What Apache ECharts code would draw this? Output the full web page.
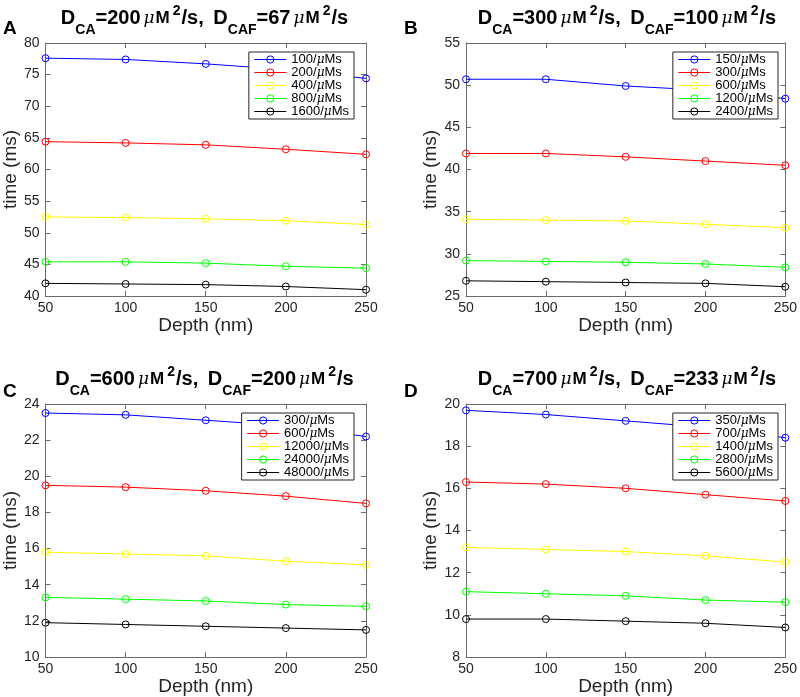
<!DOCTYPE html>
<html><head><meta charset="utf-8">
<script src="https://cdn.jsdelivr.net/npm/echarts@6/dist/echarts.min.js"></script>
<style>html,body{margin:0;padding:0;background:#fff}#c{width:800px;height:697px}</style>
</head><body><div id="c"></div>
<script>
// ---- data ----
const depth = [50, 100, 150, 200, 250];
const lineColors = ['#0000ff', '#ff0000', '#ffff00', '#00ff00', '#000000'];

const ratesA = ['100', '200', '400', '800', '1600'];
const A_blue   = [77.6, 77.4, 76.7, 75.8, 74.4];
const A_red    = [64.4, 64.2, 63.9, 63.2, 62.4];
const A_yellow = [52.5, 52.4, 52.2, 51.9, 51.3];
const A_green  = [45.4, 45.4, 45.2, 44.7, 44.4];
const A_black  = [42.0, 41.9, 41.8, 41.5, 41.0];

const ratesB = ['150', '300', '600', '1200', '2400'];
const B_blue   = [50.7, 50.7, 49.9, 49.4, 48.4];
const B_red    = [41.9, 41.9, 41.5, 41.0, 40.5];
const B_yellow = [34.1, 34.0, 33.9, 33.5, 33.1];
const B_green  = [29.2, 29.1, 29.0, 28.8, 28.4];
const B_black  = [26.8, 26.7, 26.6, 26.5, 26.1];

const ratesC = ['300', '600', '12000', '24000', '48000'];
const C_blue   = [23.5, 23.4, 23.1, 22.8, 22.2];
const C_red    = [19.5, 19.4, 19.2, 18.9, 18.5];
const C_yellow = [15.8, 15.7, 15.6, 15.3, 15.1];
const C_green  = [13.3, 13.2, 13.1, 12.9, 12.8];
const C_black  = [11.9, 11.8, 11.7, 11.6, 11.5];

const ratesD = ['350', '700', '1400', '2800', '5600'];
const D_blue   = [19.7, 19.5, 19.2, 18.9, 18.4];
const D_red    = [16.3, 16.2, 16.0, 15.7, 15.4];
const D_yellow = [13.2, 13.1, 13.0, 12.8, 12.5];
const D_green  = [11.1, 11.0, 10.9, 10.7, 10.6];
const D_black  = [9.8, 9.8, 9.7, 9.6, 9.4];

const yRanges = [[40, 80, 5], [25, 55, 5], [10, 24, 2], [8, 20, 2]];
const DCA = ['200', '300', '600', '700'];
const DCAF = ['67', '100', '200', '233'];
const letters = ['A', 'B', 'C', 'D'];

// ---- layout ----
const FONT = 'Liberation Sans, Arial, Helvetica, sans-serif';
const AX = '#6b6b6b';
const TXT = '#262626';
const grids = [
  {left: 43, top: 43, width: 323, height: 253},
  {left: 466, top: 43, width: 322, height: 253},
  {left: 43, top: 404, width: 323, height: 253},
  {left: 466, top: 404, width: 322, height: 253}
];
const panels = [
  {rates: ratesA, vals: [A_blue, A_red, A_yellow, A_green, A_black]},
  {rates: ratesB, vals: [B_blue, B_red, B_yellow, B_green, B_black]},
  {rates: ratesC, vals: [C_blue, C_red, C_yellow, C_green, C_black]},
  {rates: ratesD, vals: [D_blue, D_red, D_yellow, D_green, D_black]}
];

const xAxes = [], yAxes = [], series = [], legends = [], titles = [];
panels.forEach((p, i) => {
  const g = grids[i];
  const [ymin, ymax, yint] = yRanges[i];
  const common = {gridIndex: i, type: 'value', splitLine: {show: false},
    axisLine: {show: true, lineStyle: {color: AX, width: 1}},
    axisTick: {show: true, inside: true, length: 5, lineStyle: {color: AX}}};
  xAxes.push(Object.assign({}, common, {position: 'bottom', min: 50, max: 250, interval: 50,
    axisLabel: {color: TXT, fontSize: 14, fontFamily: FONT, margin: 5, showMinLabel: true, showMaxLabel: true},
    name: 'Depth (nm)', nameLocation: 'middle', nameGap: 18,
    nameTextStyle: {color: TXT, fontSize: 19, fontFamily: FONT}}));
  yAxes.push(Object.assign({}, common, {position: 'left', min: ymin, max: ymax, interval: yint,
    axisLabel: {color: TXT, fontSize: 14, fontFamily: FONT, margin: 6, showMinLabel: true, showMaxLabel: true},
    name: 'time (ms)', nameLocation: 'middle', nameGap: 24,
    nameTextStyle: {color: TXT, fontSize: 19, fontFamily: FONT}}));
  p.vals.forEach((v, k) => {
    series.push({
      type: 'line', name: letters[i] + '|' + p.rates[k],
      xAxisIndex: i, yAxisIndex: i,
      data: depth.map((d, j) => [d, v[j]]),
      symbol: 'circle', symbolSize: 7, showSymbol: true,
      color: lineColors[k],
      lineStyle: {color: lineColors[k], width: 1},
      itemStyle: {color: 'rgba(255,255,255,0)', borderColor: lineColors[k], borderWidth: 1},
      emphasis: {disabled: true}, animation: false, z: 2 + k * 0.01
    });
  });
  legends.push({
    data: p.rates.map((r, k) => ({
      name: letters[i] + '|' + r,
      lineStyle: {color: lineColors[k], width: 1},
      itemStyle: {color: 'rgba(255,255,255,0)', borderColor: lineColors[k], borderWidth: 1}
    })),
    orient: 'vertical',
    right: i % 2 === 0 ? 446 : 22,
    top: g.top + 9,
    itemWidth: 32, itemHeight: 9, itemGap: 0,
    padding: [1, 5, 1, 5],
    backgroundColor: '#fff', borderColor: '#262626', borderWidth: 1, borderRadius: 0,
    selectedMode: false, z: 10,
    formatter: n => '{t|' + n.split('|')[1] + '/}{mu|μ}{t|Ms}',
    textStyle: {fontFamily: FONT, fontSize: 13, color: '#000', lineHeight: 13,
      rich: {t: {fontFamily: FONT, fontSize: 13, color: '#000', lineHeight: 13},
             mu: {fontFamily: 'DejaVu Serif, serif', fontStyle: 'italic', fontSize: 12, color: '#000', lineHeight: 13}}}
  });
  const cx = g.left + g.width / 2;
  const tk = () => ({fontFamily: FONT, fontWeight: 'bold', color: '#000', verticalAlign: 'top'});
  titles.push({
    text: '{m|D}{sub|CA}{m|=' + DCA[i] + '}{mu|μ}{M|M}{sup|2}{m|/s,}{sp| }{m|D}{sub|CAF}{m|=' + DCAF[i] + '}{mu|μ}{M|M}{sup|2}{m|/s}',
    left: cx, top: g.top - 43, textAlign: 'center', padding: 0,
    textStyle: {rich: {
      m: Object.assign(tk(), {fontSize: 20, lineHeight: 20, padding: [8, 0, 0, 0]}),
      sp: Object.assign(tk(), {fontSize: 20, lineHeight: 20, padding: [8, 4, 0, 0]}),
      sub: Object.assign(tk(), {fontSize: 14, lineHeight: 14, padding: [23, 0, 0, 0]}),
      sup: Object.assign(tk(), {fontSize: 14, lineHeight: 14, padding: [4, 1, 0, 0]}),
      M: Object.assign(tk(), {fontSize: 17, lineHeight: 17, padding: [10, 3, 0, 0]}),
      mu: {fontFamily: 'DejaVu Serif, serif', fontStyle: 'italic', fontWeight: 'normal', color: '#000',
           fontSize: 17, lineHeight: 17, verticalAlign: 'top', padding: [10, 1, 0, 3]}
    }}
  });
  titles.push({
    text: letters[i], left: i % 2 === 0 ? 3 : 404, top: g.top - 24 + (i >= 2 ? 2 : 0), padding: 0,
    textStyle: {fontFamily: FONT, fontWeight: 'bold', fontSize: 19, color: '#000'}
  });
});
// box axes (top / right) with inward ticks
panels.forEach((p, i) => {
  const [ymin, ymax, yint] = yRanges[i];
  const common = {gridIndex: i, type: 'value', splitLine: {show: false}, axisLabel: {show: false},
    axisLine: {show: true, lineStyle: {color: AX, width: 1}},
    axisTick: {show: true, inside: true, length: 5, lineStyle: {color: AX}}};
  xAxes.push(Object.assign({}, common, {position: 'top', min: 50, max: 250, interval: 50}));
  yAxes.push(Object.assign({}, common, {position: 'right', min: ymin, max: ymax, interval: yint}));
});

const chart = echarts.init(document.getElementById('c'), null, {renderer: 'canvas'});
chart.setOption({
  backgroundColor: '#fff', animation: false,
  title: titles, legend: legends, grid: grids,
  xAxis: xAxes, yAxis: yAxes, series: series, tooltip: {show: false}
});
</script></body></html>
